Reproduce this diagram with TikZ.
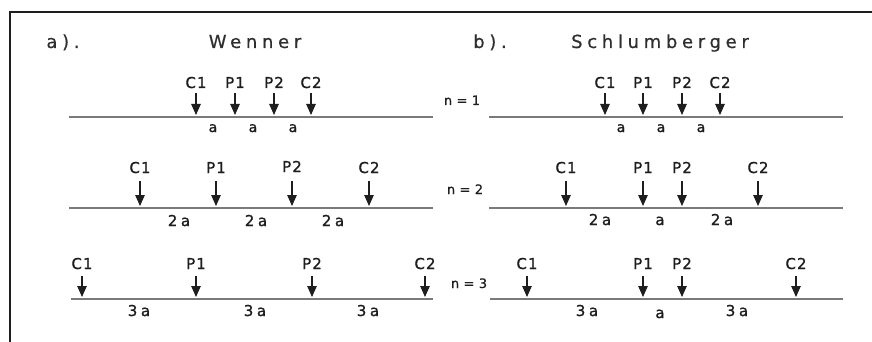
\documentclass[tikz,border=0pt]{standalone}
\usepackage{fontspec}
\setmainfont{DejaVu Sans}
\newfontfamily\titlefont[LetterSpace=26,FakeBold=0.5]{DejaVu Sans}
\newfontfamily\labfont[LetterSpace=7,FakeBold=1]{DejaVu Sans}
\newfontfamily\spfont[LetterSpace=24,FakeBold=1.2]{DejaVu Sans}
\newfontfamily\nfont[LetterSpace=2,FakeBold=0.7]{DejaVu Sans}
\usetikzlibrary{arrows.meta}
\definecolor{ink}{HTML}{1E1E1E}
\definecolor{titleink}{HTML}{2E2E2E}
\definecolor{groundgray}{HTML}{7A7A7A}
\tikzset{
  frameline/.style={line width=2pt, ink},
  ground/.style={line width=1.8pt, groundgray},
  elecarrow/.style={line width=1.1pt, ink, -{Triangle[length=11pt,width=9.5pt]}, shorten >=2pt},
  ttl/.style={inner sep=0pt, anchor=base, text=titleink, font=\titlefont\fontsize{18}{21}\selectfont},
  lab/.style={inner sep=0pt, anchor=base, text=ink, font=\labfont\fontsize{15}{17}\selectfont},
  spc/.style={inner sep=0pt, anchor=base, text=ink, font=\spfont\fontsize{15}{17}\selectfont},
  spcs/.style={inner sep=0pt, anchor=base, text=ink, font=\spfont\fontsize{14}{16}\selectfont},
  nlab/.style={inner sep=0pt, anchor=base, text=ink, font=\nfont\fontsize{13}{15}\selectfont}
}
% #1 name, #2 x, #3 label baseline, #4 arrow top, #5 ground y, #6 text
\newcommand\myelec[6]{%
  \node[lab] (#1) at (#2,#3) {#6};
  \coordinate (#1t) at (#2,#4);
  \coordinate (#1g) at (#2,#5);
  \draw[elecarrow] (#1t) -- (#1g);
}
\begin{document}
\begin{tikzpicture}[x=1pt,y=-1pt]
\useasboundingbox (0,0) rectangle (872,342);
\fill[white] (0,0) rectangle (872,342);
% frame
\coordinate (fbl) at (10,343);
\coordinate (ftl) at (10,12);
\coordinate (ftr) at (873,12);
\draw[frameline] (fbl) -- (ftl) -- (ftr);
% titles
\node[ttl] (ta) at (63,48) {a).};
\node[ttl] (tw) at (255,48) {Wenner};
\node[ttl] (tb) at (490,48) {b).};
\node[ttl] (ts) at (660,48) {Schlumberger};
% n labels
\node[nlab] (n1) at (462,105) {n = 1};
\node[nlab] (n2) at (465,194) {n = 2};
\node[nlab] (n3) at (469,288) {n = 3};
% ground lines
\coordinate (wg1a) at (69,117); \coordinate (wg1b) at (433,117);
\coordinate (wg2a) at (69,208); \coordinate (wg2b) at (433,208);
\coordinate (wg3a) at (71,299); \coordinate (wg3b) at (433,299);
\coordinate (sg1a) at (489,117); \coordinate (sg1b) at (843,117);
\coordinate (sg2a) at (489,208); \coordinate (sg2b) at (843,208);
\coordinate (sg3a) at (490,299); \coordinate (sg3b) at (843,299);
\draw[ground] (wg1a) -- (wg1b);
\draw[ground] (wg2a) -- (wg2b);
\draw[ground] (wg3a) -- (wg3b);
\draw[ground] (sg1a) -- (sg1b);
\draw[ground] (sg2a) -- (sg2b);
\draw[ground] (sg3a) -- (sg3b);
% Wenner row 1
\myelec{wa1}{196}{88}{93}{117}{C1}
\myelec{wa2}{235}{88}{93}{117}{P1}
\myelec{wa3}{274}{88}{93}{117}{P2}
\myelec{wa4}{311}{88}{93}{117}{C2}
\node[spcs] (wd1a) at (213,132) {a};
\node[spcs] (wd1b) at (253,132) {a};
\node[spcs] (wd1c) at (293,132) {a};
% Wenner row 2
\myelec{wb1}{140}{173}{181}{208}{C1}
\myelec{wb2}{216}{173}{181}{208}{P1}
\myelec{wb3}{292}{172}{181}{208}{P2}
\myelec{wb4}{369}{173}{181}{208}{C2}
\node[spc] (wd2a) at (179,226) {2a};
\node[spc] (wd2b) at (256,226) {2a};
\node[spc] (wd2c) at (333,226) {2a};
% Wenner row 3
\myelec{wc1}{82}{269}{276}{299}{C1}
\myelec{wc2}{196}{269}{276}{299}{P1}
\myelec{wc3}{312}{269}{276}{299}{P2}
\myelec{wc4}{425}{269}{276}{299}{C2}
\node[spc] (wd3a) at (139,316) {3a};
\node[spc] (wd3b) at (255,316) {3a};
\node[spc] (wd3c) at (368,316) {3a};
% Schlumberger row 1
\myelec{sa1}{605}{88}{93}{117}{C1}
\myelec{sa2}{643}{88}{93}{117}{P1}
\myelec{sa3}{682}{88}{93}{117}{P2}
\myelec{sa4}{720}{88}{93}{117}{C2}
\node[spcs] (sd1a) at (621,132) {a};
\node[spcs] (sd1b) at (661,132) {a};
\node[spcs] (sd1c) at (701,132) {a};
% Schlumberger row 2
\myelec{sb1}{566}{173}{181}{208}{C1}
\myelec{sb2}{643}{173}{181}{208}{P1}
\myelec{sb3}{682}{173}{181}{208}{P2}
\myelec{sb4}{758}{173}{181}{208}{C2}
\node[spc] (sd2a) at (600,225) {2a};
\node[spc] (sd2b) at (660,225) {a};
\node[spc] (sd2c) at (722,225) {2a};
% Schlumberger row 3
\myelec{sc1}{527}{269}{276}{299}{C1}
\myelec{sc2}{643}{269}{276}{299}{P1}
\myelec{sc3}{682}{269}{276}{299}{P2}
\myelec{sc4}{796}{269}{276}{299}{C2}
\node[spc] (sd3a) at (587,316) {3a};
\node[spc] (sd3b) at (660,318) {a};
\node[spc] (sd3c) at (737,316) {3a};
\end{tikzpicture}
\end{document}
